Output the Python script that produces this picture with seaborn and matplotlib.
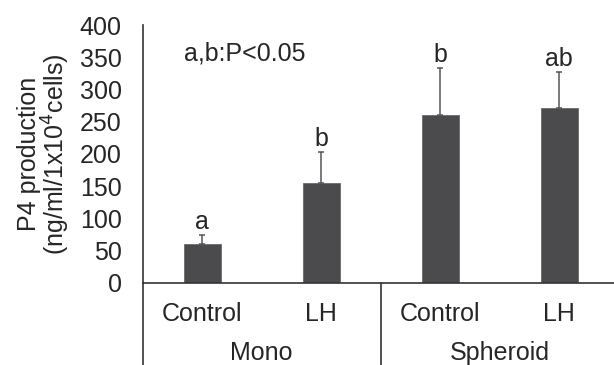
import matplotlib
matplotlib.use("Agg")
import matplotlib.pyplot as plt
import matplotlib.transforms as mtransforms
import seaborn as sns
import numpy as np
import pandas as pd

# P4 production by culture type and treatment
groups = ["Mono", "Mono", "Spheroid", "Spheroid"]
treatments = ["Control", "LH", "Control", "LH"]
p4_mean = [60, 155, 261, 272]
p4_sem = [15, 48, 73, 55]
sig_letters = ["a", "b", "b", "ab"]
group_names = ["Mono", "Spheroid"]
y_ticks = [0, 50, 100, 150, 200, 250, 300, 350, 400]

sns.set_style("white")
plt.rcParams["font.family"] = ["Liberation Sans", "DejaVu Sans"]

text_color = "#262626"
bar_color = "#4b4b4d"
line_color = "#333333"
fs = 18

df = pd.DataFrame({
    "key": [f"{g} {t}" for g, t in zip(groups, treatments)],
    "mean": p4_mean,
})

fig = plt.figure(figsize=(6.14, 3.65), dpi=100)
ax = fig.add_axes([0.2324, 0.2247, 0.7676, 0.7068])

sns.barplot(data=df, x="key", y="mean", color=bar_color, saturation=1,
            width=0.31, errorbar=None, ax=ax, edgecolor="#6a6a6c",
            linewidth=0.6)

xs = np.arange(len(p4_mean))
ax.errorbar(xs, p4_mean, yerr=[np.zeros(len(p4_sem)), p4_sem], fmt="none",
            ecolor="#555555", elinewidth=1.1, capsize=2, capthick=1.1)

for x, m, e, s in zip(xs, p4_mean, p4_sem, sig_letters):
    ax.text(x, m + e + 1, s, ha="center", va="bottom", fontsize=fs,
            color=text_color)

ax.text(0.36, 356, "a,b:P<0.05", ha="center", va="center", fontsize=fs,
        color=text_color)

ax.set_ylim(0, 400)
ax.set_xlim(-0.5, 3.46)
ax.set_yticks(y_ticks)
ax.set_yticklabels([str(v) for v in y_ticks])
ax.set_xticks(xs)
ax.set_xticklabels(treatments)
ax.tick_params(axis="both", length=0, labelsize=fs, colors=text_color)
ax.tick_params(axis="y", pad=15)
ax.tick_params(axis="x", pad=14)
ax.set_xlabel("")
ax.set_ylabel("P4 production\n(ng/ml/1x10$^4$cells)", fontsize=fs,
              color=text_color, labelpad=6, linespacing=0.95)

for side in ["top", "right"]:
    ax.spines[side].set_visible(False)
for side in ["left", "bottom"]:
    ax.spines[side].set_color(line_color)
    ax.spines[side].set_linewidth(1.2)

# Group separators and group labels below the category axis
trans = mtransforms.blended_transform_factory(ax.transData, ax.transAxes)
for xsep in [-0.5, 1.5]:
    ax.plot([xsep, xsep], [0, -0.34], transform=trans, color=line_color,
            lw=1.2, clip_on=False)
for i, g in enumerate(group_names):
    ax.text(2 * i + 0.5, -0.27, g, transform=trans, ha="center", va="center",
            fontsize=fs, color=text_color)

fig.savefig("out.png", dpi=100)
